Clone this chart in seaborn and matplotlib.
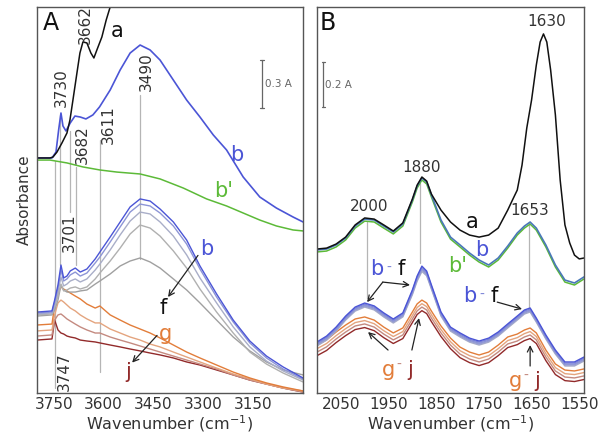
import matplotlib
matplotlib.use("Agg")
import matplotlib.pyplot as plt
import seaborn as sns

# ---- panel A : O-H stretching region ----
wn_a_top = [3800, 3755, 3743, 3735, 3728, 3722, 3713, 3700, 3686, 3670, 3653, 3632, 3612, 3580, 3550,
            3520, 3490, 3460, 3430, 3390, 3350, 3310, 3270, 3230, 3180, 3130, 3080, 3030, 3000]
b_top_a = [1.469, 1.469, 1.506, 1.644, 1.750, 1.669, 1.638, 1.688, 1.731, 1.725, 1.713, 1.738, 1.788, 1.894, 2.019,
           2.125, 2.175, 2.144, 2.081, 1.956, 1.831, 1.725, 1.613, 1.519, 1.350, 1.225, 1.156, 1.100, 1.069]

wn_a_black = [3800, 3761, 3752, 3740, 3725, 3710, 3701, 3692, 3680, 3671, 3662, 3650, 3638, 3629, 3620,
              3605, 3592, 3580, 3565]
a_a = [1.469, 1.469, 1.475, 1.506, 1.563, 1.625, 1.706, 1.831, 2.000, 2.125, 2.194, 2.188, 2.125, 2.094, 2.144,
       2.225, 2.331, 2.413, 2.550]

wn_a_green = [3800, 3761, 3710, 3662, 3611, 3560, 3490, 3430, 3360, 3290, 3230, 3180, 3130, 3080, 3030, 3000]
bp_a = [1.456, 1.456, 1.438, 1.413, 1.394, 1.381, 1.369, 1.338, 1.281, 1.213, 1.169, 1.125, 1.081, 1.044, 1.019, 1.013]

wn_a_low = [3800, 3755, 3747, 3737, 3728, 3720, 3710, 3700, 3685, 3670, 3650, 3625, 3611, 3580, 3550,
            3520, 3490, 3460, 3430, 3390, 3350, 3310, 3260, 3210, 3160, 3110, 3060, 3000]
b_low_a = [0.506, 0.513, 0.581, 0.675, 0.800, 0.719, 0.731, 0.763, 0.781, 0.756, 0.775, 0.838, 0.881, 0.975, 1.069,
           1.163, 1.213, 1.200, 1.150, 1.069, 0.956, 0.794, 0.619, 0.456, 0.325, 0.231, 0.163, 0.094]
c_a = [0.500, 0.506, 0.569, 0.656, 0.769, 0.700, 0.713, 0.738, 0.756, 0.731, 0.750, 0.813, 0.850, 0.944, 1.038,
       1.131, 1.181, 1.169, 1.125, 1.044, 0.931, 0.775, 0.600, 0.444, 0.313, 0.219, 0.150, 0.088]
d_a = [0.494, 0.500, 0.550, 0.631, 0.725, 0.669, 0.681, 0.700, 0.713, 0.694, 0.713, 0.769, 0.806, 0.894, 0.988,
       1.075, 1.131, 1.119, 1.069, 0.981, 0.863, 0.719, 0.563, 0.413, 0.288, 0.200, 0.138, 0.081]
e_a = [0.488, 0.494, 0.538, 0.606, 0.681, 0.638, 0.644, 0.656, 0.663, 0.650, 0.663, 0.713, 0.750, 0.825, 0.906,
       0.994, 1.050, 1.031, 0.981, 0.888, 0.781, 0.650, 0.506, 0.375, 0.256, 0.181, 0.125, 0.069]
f_a = [0.481, 0.488, 0.519, 0.581, 0.675, 0.644, 0.631, 0.631, 0.631, 0.638, 0.644, 0.681, 0.700, 0.744, 0.794,
       0.825, 0.844, 0.819, 0.781, 0.713, 0.644, 0.563, 0.456, 0.350, 0.263, 0.194, 0.144, 0.113]
g_a = [0.425, 0.431, 0.550, 0.625, 0.663, 0.650, 0.638, 0.625, 0.606, 0.588, 0.556, 0.531, 0.544, 0.488, 0.456,
       0.425, 0.400, 0.375, 0.344, 0.300, 0.256, 0.219, 0.175, 0.131, 0.094, 0.063, 0.038, 0.013]
h_a = [0.388, 0.394, 0.488, 0.563, 0.581, 0.569, 0.550, 0.531, 0.513, 0.488, 0.463, 0.438, 0.438, 0.400, 0.375,
       0.350, 0.331, 0.306, 0.288, 0.256, 0.225, 0.194, 0.156, 0.119, 0.088, 0.056, 0.031, 0.013]
i_a = [0.356, 0.363, 0.456, 0.488, 0.494, 0.481, 0.463, 0.450, 0.431, 0.413, 0.394, 0.375, 0.375, 0.350, 0.331,
       0.313, 0.294, 0.275, 0.256, 0.231, 0.206, 0.181, 0.150, 0.113, 0.081, 0.056, 0.031, 0.006]
j_a = [0.331, 0.338, 0.456, 0.394, 0.375, 0.369, 0.356, 0.350, 0.344, 0.331, 0.325, 0.319, 0.313, 0.300, 0.288,
       0.275, 0.263, 0.250, 0.238, 0.219, 0.194, 0.175, 0.144, 0.113, 0.081, 0.056, 0.031, 0.006]

# ---- panel B : carbonyl / bending region ----
wn_b = [2100, 2080, 2060, 2040, 2020, 2000, 1980, 1960, 1940, 1920, 1900, 1890, 1880, 1870, 1860, 1840,
        1820, 1800, 1780, 1760, 1740, 1720, 1700, 1680, 1665, 1653, 1640, 1620, 1600, 1580, 1560, 1540]
b_top_b = [0.636, 0.640, 0.658, 0.689, 0.742, 0.773, 0.769, 0.742, 0.716, 0.751, 0.858, 0.920, 0.956, 0.938, 0.880, 0.769,
           0.693, 0.658, 0.622, 0.591, 0.569, 0.600, 0.653, 0.711, 0.742, 0.760, 0.733, 0.658, 0.569, 0.502, 0.489, 0.516]
bp_b = [0.627, 0.631, 0.649, 0.680, 0.733, 0.764, 0.760, 0.733, 0.707, 0.742, 0.849, 0.911, 0.947, 0.929, 0.871, 0.760,
        0.684, 0.649, 0.613, 0.582, 0.560, 0.591, 0.644, 0.702, 0.733, 0.751, 0.724, 0.649, 0.560, 0.493, 0.480, 0.507]

wn_b_black = [2100, 2080, 2060, 2040, 2020, 2000, 1980, 1960, 1940, 1920, 1900, 1890, 1880, 1870, 1860, 1840,
              1820, 1800, 1780, 1760, 1740, 1720, 1700, 1690, 1680, 1670, 1660, 1650, 1640, 1632, 1625, 1618,
              1610, 1600, 1590, 1580, 1570, 1560, 1550, 1540]
a_b = [0.640, 0.644, 0.662, 0.693, 0.747, 0.778, 0.773, 0.747, 0.720, 0.756, 0.862, 0.924, 0.960, 0.942, 0.884, 0.813,
       0.760, 0.724, 0.702, 0.693, 0.702, 0.733, 0.813, 0.858, 0.902, 1.013, 1.178, 1.302, 1.458, 1.560, 1.596, 1.560,
       1.436, 1.236, 0.947, 0.747, 0.667, 0.613, 0.596, 0.600]

b_low_b = [0.227, 0.253, 0.293, 0.342, 0.382, 0.400, 0.387, 0.356, 0.329, 0.356, 0.458, 0.520, 0.564, 0.542, 0.480, 0.360,
           0.293, 0.267, 0.244, 0.231, 0.244, 0.271, 0.307, 0.342, 0.369, 0.378, 0.333, 0.258, 0.191, 0.138, 0.138, 0.160]
c_b = [0.222, 0.248, 0.288, 0.337, 0.377, 0.395, 0.382, 0.351, 0.324, 0.351, 0.453, 0.515, 0.559, 0.537, 0.475, 0.355,
       0.288, 0.262, 0.239, 0.226, 0.239, 0.266, 0.302, 0.337, 0.364, 0.373, 0.328, 0.253, 0.186, 0.133, 0.133, 0.155]
d_b = [0.217, 0.243, 0.283, 0.332, 0.372, 0.390, 0.377, 0.346, 0.319, 0.346, 0.447, 0.509, 0.552, 0.531, 0.470, 0.350,
       0.283, 0.257, 0.234, 0.221, 0.234, 0.261, 0.297, 0.332, 0.359, 0.368, 0.323, 0.248, 0.181, 0.128, 0.128, 0.150]
e_b = [0.213, 0.239, 0.279, 0.328, 0.368, 0.386, 0.373, 0.342, 0.315, 0.342, 0.442, 0.503, 0.546, 0.526, 0.466, 0.346,
       0.279, 0.253, 0.230, 0.217, 0.230, 0.257, 0.293, 0.328, 0.355, 0.364, 0.319, 0.244, 0.177, 0.124, 0.124, 0.146]
f_b = [0.209, 0.235, 0.275, 0.324, 0.364, 0.382, 0.369, 0.338, 0.311, 0.338, 0.437, 0.497, 0.540, 0.521, 0.462, 0.342,
       0.275, 0.249, 0.226, 0.213, 0.226, 0.253, 0.289, 0.324, 0.351, 0.360, 0.315, 0.240, 0.173, 0.120, 0.120, 0.142]
g_b = [0.213, 0.236, 0.271, 0.302, 0.329, 0.338, 0.324, 0.293, 0.267, 0.289, 0.360, 0.396, 0.413, 0.400, 0.364, 0.298,
       0.244, 0.204, 0.182, 0.169, 0.182, 0.213, 0.249, 0.262, 0.280, 0.289, 0.267, 0.191, 0.129, 0.102, 0.098, 0.107]
h_b = [0.197, 0.220, 0.255, 0.286, 0.313, 0.322, 0.308, 0.277, 0.251, 0.273, 0.344, 0.380, 0.397, 0.384, 0.348, 0.282,
       0.228, 0.188, 0.166, 0.153, 0.166, 0.197, 0.233, 0.246, 0.264, 0.273, 0.251, 0.175, 0.113, 0.086, 0.082, 0.091]
i_b = [0.182, 0.205, 0.240, 0.271, 0.298, 0.307, 0.293, 0.262, 0.236, 0.258, 0.329, 0.365, 0.382, 0.369, 0.333, 0.267,
       0.213, 0.173, 0.151, 0.138, 0.151, 0.182, 0.218, 0.231, 0.249, 0.258, 0.236, 0.160, 0.098, 0.071, 0.067, 0.076]
j_b = [0.166, 0.189, 0.224, 0.255, 0.282, 0.291, 0.277, 0.246, 0.220, 0.242, 0.313, 0.349, 0.366, 0.353, 0.317, 0.251,
       0.197, 0.157, 0.135, 0.122, 0.135, 0.166, 0.202, 0.215, 0.233, 0.242, 0.220, 0.144, 0.082, 0.055, 0.051, 0.060]

BLUE = "#4b55d6"
GREEN = "#5cba38"
ORANGE = "#e27d3a"
DKRED = "#922a2a"
TXT = "#333333"

sns.set_style("white")
plt.rcParams["font.family"] = ["DejaVu Sans"]


def trace(ax, x, y, color, lw=1.1):
    sns.lineplot(x=x, y=y, ax=ax, color=color, linewidth=lw, estimator=None, sort=False)


def vline(ax, x, y0, y1):
    ax.plot([x, x], [y0, y1], color="#b5b5b5", lw=0.9, zorder=1)


def peak_label(ax, x, y, s):
    ax.text(x, y, s, rotation=90, ha="center", va="center", fontsize=11, color=TXT)


def scale_bar(ax, x, y0, y1, dx, s):
    ax.plot([x, x], [y0, y1], color="#666666", lw=0.9)
    ax.plot([x - dx, x + dx], [y0, y0], color="#666666", lw=0.9)
    ax.plot([x - dx, x + dx], [y1, y1], color="#666666", lw=0.9)
    ax.text(x - 1.5 * dx, (y0 + y1) / 2, s, fontsize=7.5, color="#666666", ha="left", va="center")


def arrow(ax, x0, y0, x1, y1):
    ax.annotate("", xy=(x1, y1), xytext=(x0, y0),
                arrowprops=dict(arrowstyle="->", color="#222222", lw=0.9, shrinkA=0, shrinkB=0))


fig = plt.figure(figsize=(6.02, 4.36), dpi=100)
axA = fig.add_axes([0.0615, 0.0986, 0.4419, 0.8853])
axB = fig.add_axes([0.5266, 0.0986, 0.4435, 0.8853])

# ---------- panel A ----------
for x, y0, y1 in [(3747, 0.03, 1.45), (3730, 0.80, 1.74), (3701, 1.13, 1.64), (3682, 0.80, 1.41),
                  (3611, 0.13, 1.58), (3490, 0.84, 1.86)]:
    vline(axA, x, y0, y1)

for y, col in [(j_a, DKRED), (i_a, "#c48a80"), (h_a, "#e4a47e"), (g_a, ORANGE),
               (f_a, "#a0a0a0"), (e_a, "#b0b0b0"), (d_a, "#a9aec8"), (c_a, "#8d95d6"), (b_low_a, BLUE)]:
    trace(axA, wn_a_low, y, col, lw=1.0)
trace(axA, wn_a_green, bp_a, GREEN)
trace(axA, wn_a_top, b_top_a, BLUE, lw=1.2)
trace(axA, wn_a_black, a_a, "#111111")

axA.set_xlim(3800, 3000)
axA.set_ylim(0, 2.4125)

peak_label(axA, 3656, 2.30, "3662")
peak_label(axA, 3728, 1.906, "3730")
peak_label(axA, 3665, 1.55, "3682")
peak_label(axA, 3586, 1.68, "3611")
peak_label(axA, 3472, 2.006, "3490")
peak_label(axA, 3704, 1.0, "3701")
peak_label(axA, 3719, 0.131, "3747")

axA.text(3758, 2.31, "A", fontsize=17, ha="center", va="center", color="#111111")
axA.text(3559, 2.26, "a", fontsize=15, ha="center", va="center", color="#111111")
axA.text(3198, 1.49, "b", fontsize=15, ha="center", va="center", color=BLUE)
axA.text(3238, 1.26, "b'", fontsize=15, ha="center", va="center", color=GREEN)
axA.text(3289, 0.90, "b", fontsize=15, ha="center", va="center", color=BLUE)
axA.text(3421, 0.53, "f", fontsize=15, ha="center", va="center", color="#111111")
axA.text(3415, 0.37, "g", fontsize=15, ha="center", va="center", color=ORANGE)
axA.text(3526, 0.13, "j", fontsize=15, ha="center", va="center", color=DKRED)
arrow(axA, 3316, 0.86, 3406, 0.60)
arrow(axA, 3439, 0.36, 3514, 0.19)

scale_bar(axA, 3123, 1.781, 2.081, 6, "0.3 A")

axA.set_xticks([3750, 3600, 3450, 3300, 3150])
axA.set_xticks([3675, 3525, 3375, 3225, 3075], minor=True)
axA.set_yticks([])
axA.set_ylabel("Absorbance", fontsize=11, color=TXT, labelpad=4)

# ---------- panel B ----------
for x, y0, y1 in [(1996, 0.422, 0.76), (1884, 0.578, 0.933), (1655, 0.378, 0.76)]:
    vline(axB, x, y0, y1)

for y, col in [(j_b, DKRED), (i_b, "#c48a80"), (h_b, "#e4a47e"), (g_b, ORANGE),
               (f_b, "#a9aec8"), (e_b, "#9aa2d0"), (d_b, "#8d95d6"), (c_b, "#7d86d8"), (b_low_b, BLUE)]:
    trace(axB, wn_b, y, col, lw=1.0)
trace(axB, wn_b, bp_b, GREEN)
trace(axB, wn_b, b_top_b, "#4a78b8", lw=1.2)
trace(axB, wn_b_black, a_b, "#111111")

axB.set_xlim(2100, 1540)
axB.set_ylim(0, 1.7156)

axB.text(2077, 1.644, "B", fontsize=17, ha="center", va="center", color="#111111")
axB.text(1618, 1.653, "1630", fontsize=11, ha="center", va="center", color=TXT)
axB.text(1880, 1.004, "1880", fontsize=11, ha="center", va="center", color=TXT)
axB.text(1991, 0.831, "2000", fontsize=11, ha="center", va="center", color=TXT)
axB.text(1653, 0.809, "1653", fontsize=11, ha="center", va="center", color=TXT)
axB.text(1775, 0.76, "a", fontsize=15, ha="center", va="center", color="#111111")
axB.text(1754, 0.636, "b", fontsize=15, ha="center", va="center", color=BLUE)
axB.text(1806, 0.564, "b'", fontsize=15, ha="center", va="center", color=GREEN)

# "b-f" and "g-j" tags, letters coloured like their spectra
for x, y, s, col, fs in [(1974, 0.551, "b", BLUE, 15), (1949, 0.556, "-", "#7d86d8", 10), (1924, 0.551, "f", "#111111", 15),
                         (1779, 0.431, "b", BLUE, 15), (1754, 0.436, "-", "#7d86d8", 10), (1729, 0.431, "f", "#111111", 15),
                         (1951, 0.102, "g", ORANGE, 15), (1928, 0.125, "-", "#c48a80", 10), (1905, 0.102, "j", DKRED, 15),
                         (1683, 0.053, "g", ORANGE, 15), (1661, 0.076, "-", "#c48a80", 10), (1639, 0.053, "j", DKRED, 15)]:
    axB.text(x, y, s, fontsize=fs, ha="center", va="center", color=col)

arrow(axB, 1962, 0.493, 1995, 0.404)
arrow(axB, 1962, 0.493, 1905, 0.480)
arrow(axB, 1722, 0.404, 1670, 0.373)
arrow(axB, 1951, 0.191, 1993, 0.271)
arrow(axB, 1901, 0.191, 1886, 0.333)
arrow(axB, 1653, 0.120, 1653, 0.213)

scale_bar(axB, 2087, 1.271, 1.471, 3, "0.2 A")

axB.set_xticks([2050, 1950, 1850, 1750, 1650, 1550])
axB.set_xticks([2000, 1900, 1800, 1700, 1600], minor=True)
axB.set_yticks([])

for ax in (axA, axB):
    for sp in ax.spines.values():
        sp.set_color("#555555")
        sp.set_linewidth(1.0)
    ax.tick_params(axis="x", which="both", direction="in", length=4, width=0.8, color="#555555",
                   labelsize=11, labelcolor=TXT, pad=3)
    ax.set_xlabel("Wavenumber (cm$^{-1}$)", fontsize=11.5, color=TXT, labelpad=1)

fig.savefig("out.png", dpi=100)
